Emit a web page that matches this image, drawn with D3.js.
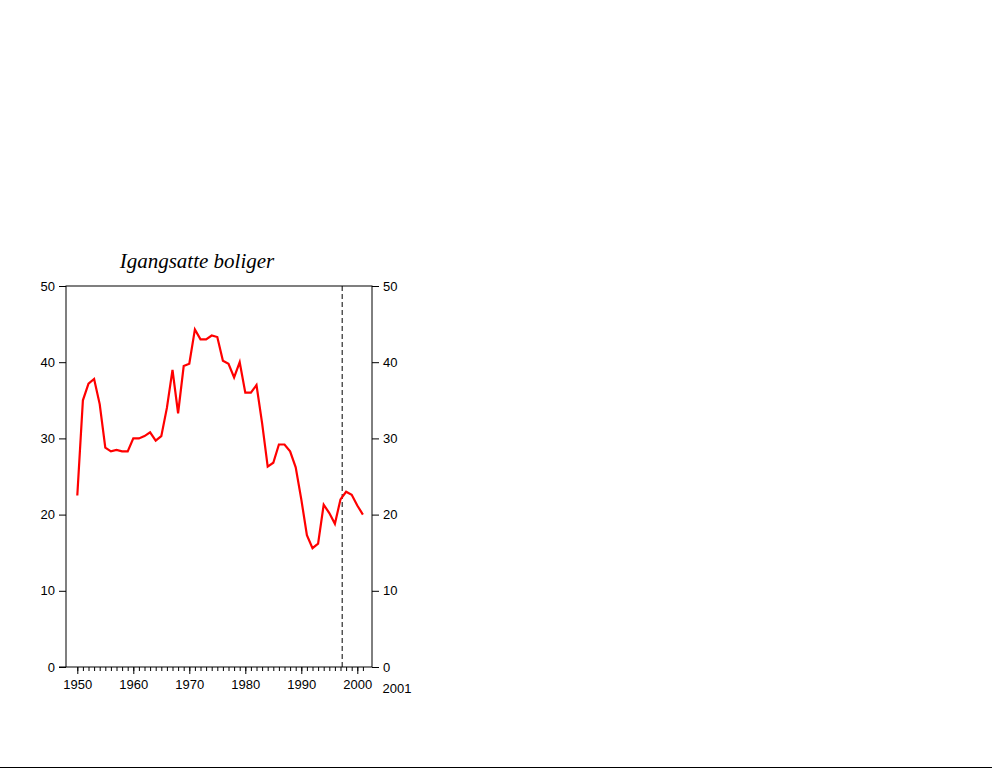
<!DOCTYPE html><html><head><meta charset="utf-8"><script src="https://cdn.jsdelivr.net/npm/d3@7"></script>
<style>body{margin:0;background:#fff}svg{display:block}</style></head><body><script>
const years=d3.range(1950,2002);
const values=[22.5,35,37.2,37.8,34.5,28.8,28.3,28.5,28.3,28.3,30,30,30.3,30.8,29.7,30.3,34,39,33.3,39.5,39.8,44.3,43,43,43.5,43.3,40.2,39.8,38,40,36,36,37,32,26.3,26.8,29.2,29.2,28.3,26.2,22,17.3,15.6,16.2,21.3,20.2,18.8,22,23,22.6,21.2,20];
const yTicks=[0,10,20,30,40,50];
const xTicks=[1950,1960,1970,1980,1990,2000];
const title="Igangsatte boliger";
const svg=d3.select("body").append("svg").attr("width",992).attr("height",768);
const L=66,R=372,T=286,B=667;
const x=d3.scaleLinear().domain([1950,2000]).range([77.3,357.3]);
const y=d3.scaleLinear().domain([0,50]).range([B,T]);
const f="Liberation Sans, Arial, sans-serif";
svg.append("rect").attr("x",L).attr("y",T).attr("width",R-L).attr("height",B-T).attr("fill","none").attr("stroke","#000");
const la=svg.append("g").attr("transform",`translate(${L},0)`).call(d3.axisLeft(y).tickValues(yTicks).tickSize(7).tickPadding(4));
const ra=svg.append("g").attr("transform",`translate(${R},0)`).call(d3.axisRight(y).tickValues(yTicks).tickSize(7).tickPadding(4));
const ba=svg.append("g").attr("transform",`translate(0,${B})`).call(d3.axisBottom(x).tickValues(xTicks).tickFormat(d3.format("d")).tickSize(7).tickPadding(6));
const mi=svg.append("g").attr("transform",`translate(0,${B})`).call(d3.axisBottom(x).tickValues(years).tickFormat("").tickSize(4));
[la,ra,ba,mi].forEach(g=>{g.select(".domain").remove();g.selectAll("line").attr("stroke","#000");g.selectAll("text").attr("font-family",f).attr("font-size",13).attr("fill","#000");});
svg.append("line").attr("x1",L-7).attr("x2",L).attr("y1",B).attr("y2",B).attr("stroke","#000");
svg.append("text").attr("x",x(2001)+34).attr("y",B+26).attr("text-anchor","middle").attr("font-family",f).attr("font-size",13).text("2001");
svg.append("line").attr("x1",x(1997.3)).attr("x2",x(1997.3)).attr("y1",T).attr("y2",B).attr("stroke","#000").attr("stroke-dasharray","5,3");
svg.append("path").datum(values).attr("fill","none").attr("stroke","#ff0000").attr("stroke-width",2.2)
 .attr("d",d3.line().x((d,i)=>x(years[i])).y(d=>y(d)));
svg.append("text").attr("x",197).attr("y",268).attr("text-anchor","middle").attr("font-family","Liberation Serif, Times New Roman, serif").attr("font-style","italic").attr("font-size",21).text(title);
svg.append("line").attr("x1",0).attr("x2",992).attr("y1",767.5).attr("y2",767.5).attr("stroke","#000");
</script></body></html>
